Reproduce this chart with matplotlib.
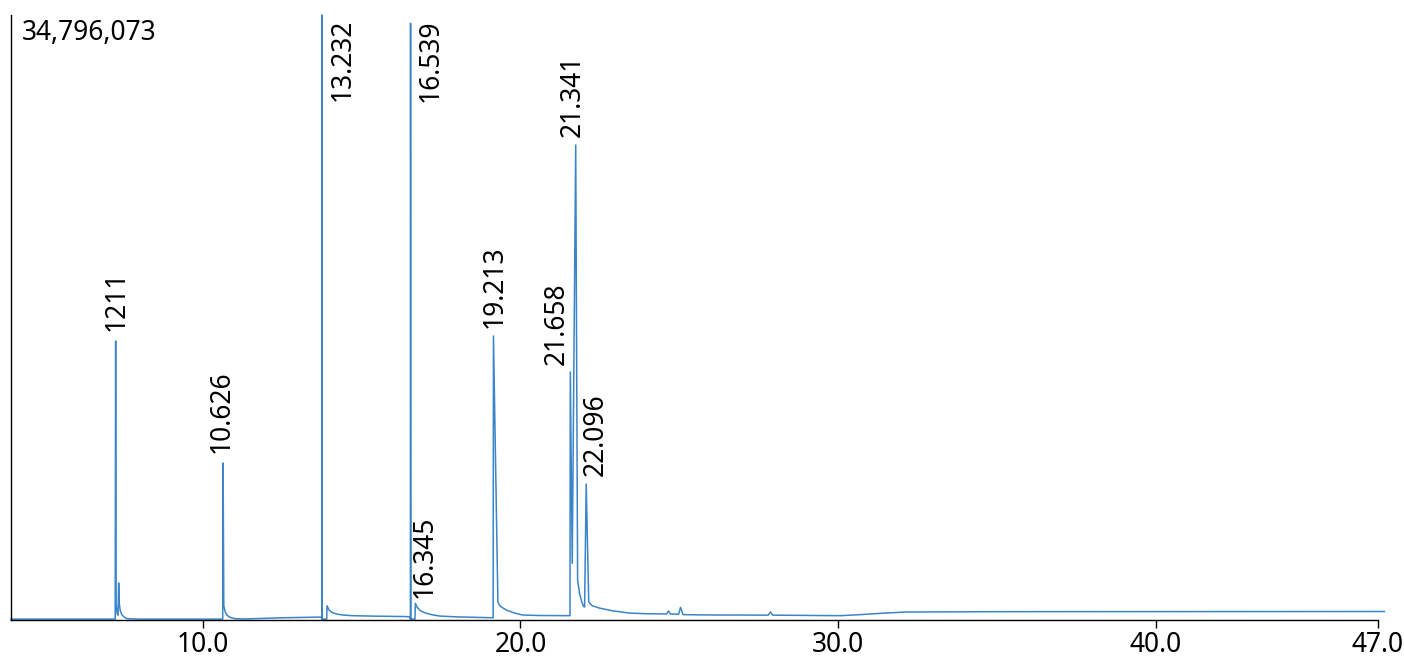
import numpy as np
import matplotlib
matplotlib.use('Agg')
import matplotlib.pyplot as plt

plt.rcParams['font.family'] = ['Noto Sans', 'DejaVu Sans']

# retention time (min) and detector signal (millions of counts)
rt = [3.96, 7.24, 7.255, 7.27, 7.30, 7.33, 7.35, 7.37, 7.40, 7.45, 7.52, 7.61, 8.0,
      10.625, 10.638, 10.66, 10.70, 10.76, 10.85, 11.0, 11.3, 12.5,
      13.74, 13.745, 13.752, 13.76, 13.90, 13.91, 13.97, 14.05, 14.2, 14.4, 14.7, 15.5,
      16.4, 16.52, 16.535, 16.54, 16.55, 16.68, 16.69, 16.75, 16.85, 17.0, 17.2, 17.45, 18.0,
      19.14, 19.15, 19.29, 19.33, 19.40, 19.55, 19.80, 20.06, 20.6,
      21.56, 21.57, 21.63, 21.74, 21.80, 21.86, 21.93, 21.99, 22.02, 22.07, 22.15,
      22.25, 22.48, 22.9, 23.43, 24.0, 24.6, 24.66, 24.72, 24.98, 25.04, 25.12,
      26.0, 27.8, 27.87, 27.94, 30.08, 30.7, 31.38, 32.13, 35.0, 47.2]
signal = [0.02, 0.02, 16.03, 0.9, 0.35, 0.25, 2.10, 0.9, 0.5, 0.28, 0.14, 0.05, 0.02,
          0.02, 9.01, 0.8, 0.45, 0.25, 0.13, 0.05, 0.03, 0.10,
          0.14, 0.02, 34.796073, 0.02, 0.02, 0.79, 0.55, 0.42, 0.32, 0.26, 0.22, 0.19,
          0.17, 0.14, 0.02, 34.32, 0.02, 0.02, 0.93, 0.7, 0.5, 0.38, 0.28, 0.2, 0.15,
          0.10, 16.32, 1.02, 0.85, 0.72, 0.55, 0.38, 0.26, 0.23,
          0.22, 14.25, 3.23, 27.31, 2.27, 1.51, 1.02, 0.74, 0.72, 7.80, 1.02,
          0.8, 0.66, 0.5, 0.37, 0.33, 0.32, 0.49, 0.32, 0.30, 0.70, 0.28,
          0.26, 0.25, 0.43, 0.25, 0.22, 0.28, 0.36, 0.43, 0.45, 0.46]

# peak labels: text, retention time of the apex
peak_labels = ['1211', '10.626', '13.232', '16.539', '16.345', '19.213', '21.658', '21.341', '22.096']
peak_rt = [7.255, 10.638, 13.752, 16.54, 16.69, 19.15, 21.57, 21.74, 22.07]
# label offsets in pixels (dx, dy) and whether the label hangs from the top
label_dx = [1, -1, 21, 20, 9, 1, -14, -3, 10]
label_dy = [10, 10, -4, -4, 5, 8, 7, 8, 8]
label_top = [False, False, True, True, False, False, False, False, False]

xticks = [10.0, 20.0, 30.0, 40.0, 47.0]
xmin, xmax = 3.96, 47.0
ymax = max(signal)
fs = 19

fig = plt.figure(figsize=(14.04, 6.58), dpi=100)
ax = fig.add_axes([11 / 1404, 38.5 / 658, 1367 / 1404, 604.5 / 658])
ax.plot(rt, signal, color='#3a84c9', lw=1.1, clip_on=False)
ax.set_xlim(xmin, xmax)
ax.set_ylim(0, ymax)

for txt, t, dx, dy, top in zip(peak_labels, peak_rt, label_dx, label_dy, label_top):
    h = ymax if top else np.interp(t, rt, signal)
    ax.annotate(txt, xy=(t, h), xytext=(dx, dy), textcoords='offset pixels',
                rotation=90, ha='center', va='top' if top else 'bottom',
                fontsize=fs, color='black')

ax.text(0.008, 0.971, f'{round(ymax * 1e6):,}', transform=ax.transAxes,
        ha='left', va='center', fontsize=fs)

ax.spines['top'].set_visible(False)
ax.spines['right'].set_visible(False)
ax.spines['left'].set_linewidth(1.0)
ax.spines['bottom'].set_linewidth(1.0)
ax.set_yticks([])
ax.set_xticks(xticks)
ax.set_xticklabels([f'{v:.1f}' for v in xticks])
ax.tick_params(axis='x', length=6, width=1, labelsize=fs, pad=2)

fig.savefig('out.png', dpi=100)
